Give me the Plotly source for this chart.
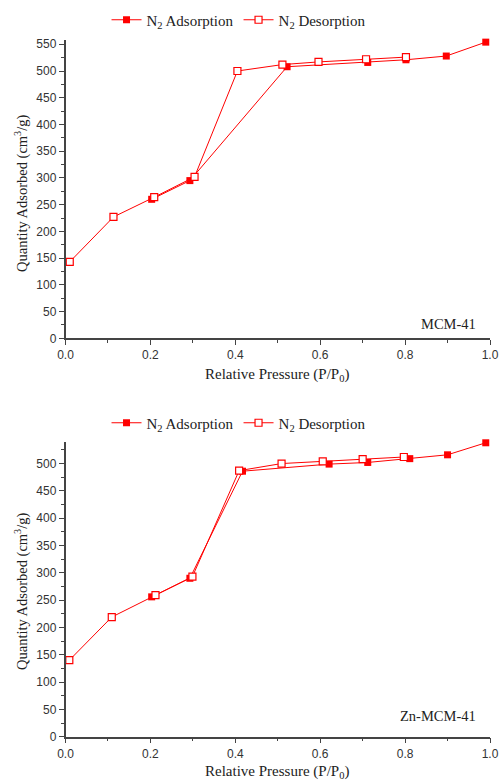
import plotly.graph_objects as go

# MCM-41
mcm_ads_x = [0.203, 0.293, 0.522, 0.712, 0.802, 0.897, 0.990]
mcm_ads_y = [260, 295, 508, 516, 521, 528, 554]
mcm_des_x = [0.010, 0.113, 0.209, 0.304, 0.405, 0.511, 0.596, 0.708, 0.802]
mcm_des_y = [143, 227, 264, 302, 500, 512, 517, 522, 526]

# Zn-MCM-41
zn_ads_x = [0.203, 0.293, 0.417, 0.621, 0.712, 0.811, 0.900, 0.990]
zn_ads_y = [256, 290, 486, 499, 502, 509, 516, 538]
zn_des_x = [0.009, 0.109, 0.212, 0.299, 0.409, 0.509, 0.606, 0.700, 0.797]
zn_des_y = [140, 219, 259, 293, 487, 500, 504, 508, 512]

W, H = 499, 782
RED = "#ff0000"
SERIF = "Liberation Serif"
SANS = "Liberation Sans"

fig = go.Figure()

def px_x(p):
    return p / W

def px_y(p):
    return (H - p) / H

panels = [
    dict(ads=(mcm_ads_x, mcm_ads_y), des=(mcm_des_x, mcm_des_y), xa="x", ya="y",
         legend="legend", ydom=(px_y(338.3), px_y(40)), yr=[0, 558], label="MCM-41",
         label_y=324, leg_y=20, title_y=375, ytitle_y=194),
    dict(ads=(zn_ads_x, zn_ads_y), des=(zn_des_x, zn_des_y), xa="x2", ya="y2",
         legend="legend2", ydom=(px_y(736.7), px_y(441.7)), yr=[0, 540], label="Zn-MCM-41",
         label_y=716, leg_y=423, title_y=772, ytitle_y=592),
]

for pn in panels:
    fig.add_trace(go.Scatter(
        x=pn["ads"][0], y=pn["ads"][1], mode="lines+markers",
        name="N<sub>2</sub> Adsorption", xaxis=pn["xa"], yaxis=pn["ya"], legend=pn["legend"],
        line=dict(color=RED, width=1),
        marker=dict(symbol="square", size=7, color=RED, line=dict(color=RED, width=0)),
        cliponaxis=False,
    ))
    fig.add_trace(go.Scatter(
        x=pn["des"][0], y=pn["des"][1], mode="lines+markers",
        name="N<sub>2</sub> Desorption", xaxis=pn["xa"], yaxis=pn["ya"], legend=pn["legend"],
        line=dict(color=RED, width=1),
        marker=dict(symbol="square", size=7, color="white", line=dict(color=RED, width=1.2)),
        cliponaxis=False,
    ))

xdom = [px_x(65.5), px_x(490)]
axis_common = dict(
    showline=True, linecolor="#444", linewidth=1.5, ticks="outside", ticklen=5,
    tickcolor="#444", tickwidth=1.2, showgrid=False, zeroline=False, automargin=False,
    tickfont=dict(family=SANS, size=12, color="#333"),
)

layout = dict(
    width=W, height=H, margin=dict(l=0, r=0, t=0, b=0, autoexpand=False),
    paper_bgcolor="white", plot_bgcolor="white",
)

for i, pn in enumerate(panels):
    sfx = "" if i == 0 else "2"
    layout["xaxis" + sfx] = dict(
        axis_common, domain=xdom, range=[0, 1.0], dtick=0.2, tick0=0, tickformat=".1f",
        anchor="y" + sfx,
        minor=dict(dtick=0.1, ticks="outside", ticklen=3, tickcolor="#444", tickwidth=1),
    )
    layout["yaxis" + sfx] = dict(
        axis_common, domain=list(pn["ydom"]), range=pn["yr"], dtick=50, tick0=0,
        anchor="x" + sfx,
        minor=dict(dtick=25, ticks="outside", ticklen=3, tickcolor="#444", tickwidth=1),
    )
    layout[pn["legend"]] = dict(
        orientation="h", x=0.479, xanchor="center", y=px_y(pn["leg_y"]), yanchor="middle",
        font=dict(family=SERIF, size=15, color="#222"), bgcolor="rgba(0,0,0,0)",
        itemclick=False,
    )

fig.update_layout(**layout)

ann = []
for i, pn in enumerate(panels):
    ann.append(dict(
        text=pn["label"], x=px_x(478), y=px_y(pn["label_y"]), xref="paper", yref="paper",
        xanchor="right", yanchor="middle", showarrow=False,
        font=dict(family=SERIF, size=14.5, color="#222"),
    ))
    ann.append(dict(
        text="Relative Pressure (P/P<sub>0</sub>)", x=px_x(277), y=px_y(pn["title_y"]),
        xref="paper", yref="paper", xanchor="center", yanchor="middle", showarrow=False,
        font=dict(family=SERIF, size=15, color="#222"),
    ))
    ann.append(dict(
        text="Quantity Adsorbed (cm<sup>3</sup>/g)", x=px_x(21), y=px_y(pn["ytitle_y"]),
        xref="paper", yref="paper", xanchor="center", yanchor="middle", showarrow=False,
        textangle=-90, font=dict(family=SERIF, size=14.5, color="#222"),
    ))
fig.update_layout(annotations=ann)

fig.write_html(
    "out.html",
    config={"displayModeBar": False},
    post_script="document.body.style.margin='0';document.body.style.overflow='hidden';",
)
